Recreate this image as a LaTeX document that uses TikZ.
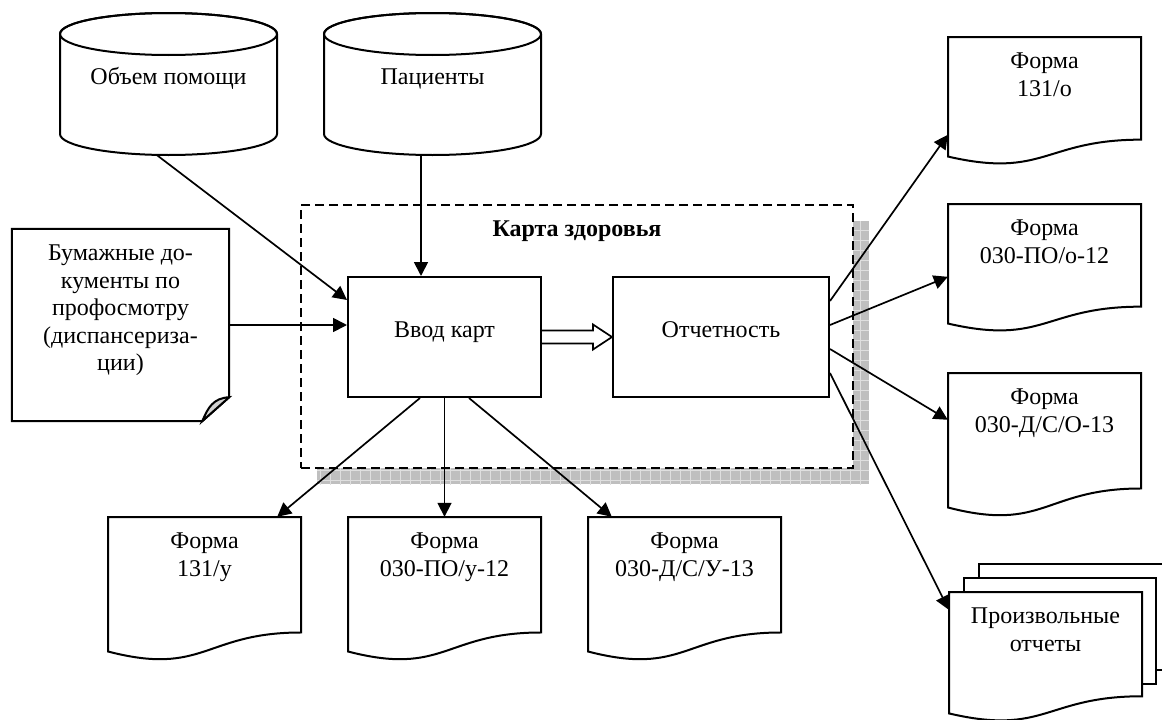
\documentclass[tikz,border=0pt]{standalone}
\usepackage{fontspec}
\setmainfont{Liberation Serif}
\usetikzlibrary{arrows.meta,positioning,calc}

\def\docw{193}

\tikzset{
  every node/.style={font=\fontsize{24pt}{27.5pt}\selectfont, inner sep=0pt, align=center},
  boxline/.style={line width=2pt},
  procbox/.style={draw, boxline, fill=white, minimum height=120pt, text height=12pt, text depth=12pt},
  dbbox/.style={minimum width=217pt, minimum height=142pt, text height=12pt, text depth=12pt},
  sheet/.style={minimum width=193pt},
  paper/.style={minimum width=217pt, minimum height=192pt},
  module/.style={draw, line width=1.8pt, dash pattern=on 9pt off 5pt, fill=white,
    minimum width=552pt, minimum height=263pt},
  arr/.style={line width=1.7pt, -{Triangle[length=14pt,width=14pt]}}
}

% sheet with wavy lower edge: name, left x, top y, height, text
\newcommand{\formdoc}[5]{%
  \draw[boxline, fill=white] (#2,#3) -- (#2+\docw,#3) -- (#2+\docw,#3+0.802*#4)
    .. controls (#2+0.5*\docw,#3+0.802*#4) and (#2+0.5*\docw,#3+1.108*#4) .. (#2,#3+0.934*#4) -- cycle;
  \node[sheet, minimum height=0.934*#4pt] (#1) at (#2+0.5*\docw,#3+0.467*#4) {};
  \node[below=16pt of #1.north] (#1-t) {#5};
}

% database drum: name, centre x, text
\newcommand{\dbcyl}[3]{%
  \draw[boxline, fill=white] (#2-108.5,34) -- (#2-108.5,134)
    arc[start angle=180, end angle=360, x radius=108.5pt, y radius=21pt]
    -- (#2+108.5,34) arc[start angle=0, end angle=180, x radius=108.5pt, y radius=21pt] -- cycle;
  \draw[boxline] (#2,34) ellipse [x radius=108.5pt, y radius=21pt];
  \node[dbbox] (#1) at (#2,84) {#3};
}

\begin{document}
\begin{tikzpicture}[x=1pt, y=-1pt]
  \useasboundingbox (0,0) rectangle (1162,720);

  % shadow of the module frame
  \fill[gray!50] (317,221) rectangle (869,484);
  \begin{scope}
    \clip (317,221) rectangle (869,484);
    \draw[gray!25, line width=0.8pt, step=10pt] (310,210) grid (880,490);
  \end{scope}
  \node[module] (karta) at (577,336.5) {};
  \node[below=16pt of karta.north, font=\bfseries\fontsize{24pt}{27.5pt}\selectfont] (karta-t) {Карта здоровья};

  \dbcyl{obem}{168.5}{Объем помощи}
  \dbcyl{pac}{432.5}{Пациенты}

  \node[paper] (bum) at (120.5,325) {};
  \draw[boxline, fill=white] (bum.north west) -- (bum.north east) -- ([yshift=24pt]bum.south east)
    -- ([xshift=-27pt]bum.south east) -- (bum.south west) -- cycle;
  \draw[boxline, fill=gray!35] ([yshift=24pt]bum.south east)
    .. controls ([xshift=-16pt,yshift=23pt]bum.south east) and ([xshift=-21pt,yshift=14pt]bum.south east)
    .. ([xshift=-27pt]bum.south east) -- cycle;
  \node[below=16pt of bum.north] (bum-t) {Бумажные до-\\кументы по\\профосмотру\\(диспансериза-\\ции)};

  \node[procbox, minimum width=193pt] (vvod) at (444.5,337) {Ввод карт};
  \node[procbox, minimum width=216pt] (otch) at (721,337) {Отчетность};

  \formdoc{f131u}{108}{517}{144}{Форма\\131/у}
  \formdoc{fpou}{348}{517}{144}{Форма\\030-ПО/у-12}
  \formdoc{fdsu}{588}{517}{144}{Форма\\030-Д/С/У-13}
  \formdoc{f131o}{948}{37}{128}{Форма\\131/о}
  \formdoc{fpoo}{948}{204}{128}{Форма\\030-ПО/о-12}
  \formdoc{fdso}{948}{373}{144}{Форма\\030-Д/С/О-13}

  % stack of reports
  \foreach \k in {2,1}
    \draw[boxline, fill=white] (949+15*\k,592-14*\k) rectangle ++(192,106);
  \formdoc{proizv}{949}{592}{130}{Произвольные\\отчеты}

  \draw[arr] ([xshift=-11.5pt]obem.south) -- ([yshift=37pt]vvod.west);
  \draw[arr] ([xshift=-11.5pt]pac.south) -- ([xshift=-23.5pt]vvod.north);
  \draw[arr] (bum.east) -- ([yshift=12pt]vvod.west);

  \draw[line width=1.7pt, fill=white] ([yshift=6.5pt]vvod.east) -- ([xshift=-19pt,yshift=6.5pt]otch.west)
    -- ([xshift=-19pt,yshift=12.5pt]otch.west) -- (otch.west) -- ([xshift=-19pt,yshift=-12.5pt]otch.west)
    -- ([xshift=-19pt,yshift=-6.5pt]otch.west) -- ([yshift=-6.5pt]vvod.east);

  \draw[arr] ([xshift=-24.5pt]vvod.south) -- ([xshift=-24pt]f131u.north east);
  \draw[arr] (vvod.south) -- (fpou.north);
  \draw[arr] ([xshift=24.5pt]vvod.south) -- ([xshift=24pt]fdsu.north west);

  \draw[arr] ([yshift=36pt]otch.east) -- ([yshift=-98pt]f131o.north west);
  \draw[arr] ([yshift=12pt]otch.east) -- ([yshift=-73pt]fpoo.north west);
  \draw[arr] ([yshift=-12pt]otch.east) -- ([yshift=-47pt]fdso.north west);
  \draw[arr] ([yshift=-36pt]otch.east) -- ([yshift=-18pt]proizv.north west);
\end{tikzpicture}
\end{document}
